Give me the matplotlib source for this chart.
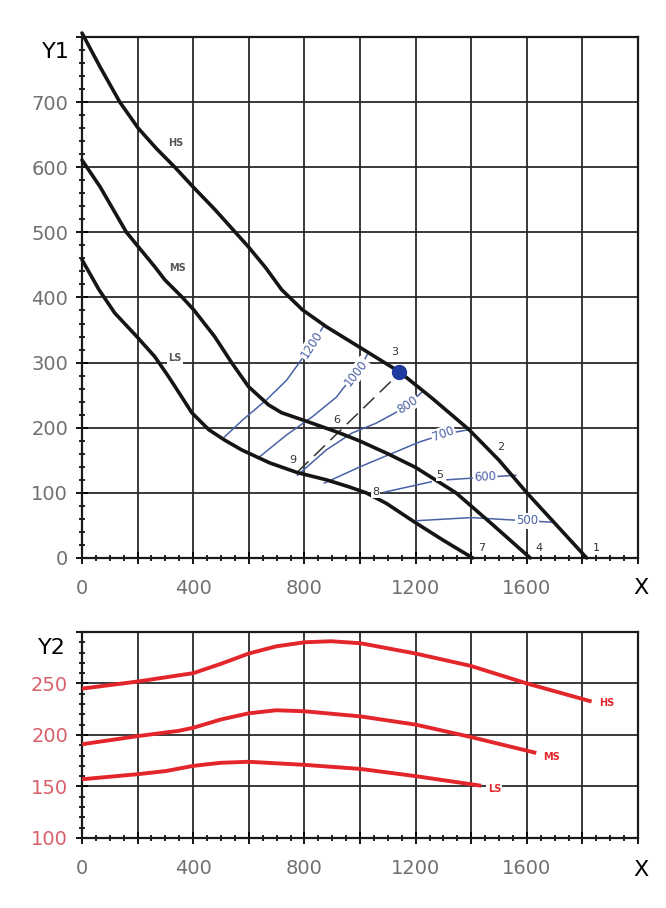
import matplotlib
matplotlib.use("Agg")
import matplotlib.pyplot as plt
from matplotlib.ticker import MultipleLocator

# ---- upper chart (Y1) ----
hs_x = [0, 65, 136, 202, 269, 334, 399, 478, 598, 660, 718, 793, 879, 997, 1141, 1260, 1392, 1500, 1600, 1815]
hs_y = [806, 754, 700, 660, 628, 600, 570, 535, 478, 446, 412, 381, 355, 324, 286, 245, 197, 150, 100, 0]
ms_x = [0, 65, 160, 262, 298, 359, 402, 477, 538, 599, 671, 718, 807, 926, 997, 1100, 1200, 1345, 1480, 1612]
ms_y = [611, 570, 500, 447, 427, 401, 381, 340, 300, 263, 235, 223, 210, 192, 180, 160, 139, 100, 50, 0]
ls_x = [0, 61, 118, 197, 262, 312, 359, 395, 456, 513, 574, 675, 775, 879, 962, 1022, 1094, 1200, 1300, 1405]
ls_y = [458, 412, 376, 340, 309, 278, 247, 223, 197, 181, 166, 146, 131, 120, 109, 100, 84, 54, 27, 0]

iso_levels = ['1200', '1000', '800', '700', '600', '500']
iso_x = [[513, 578, 664, 736, 775, 826, 872],
         [632, 736, 829, 915, 944, 987, 1026],
         [775, 879, 972, 1058, 1123, 1170, 1224],
         [872, 1000, 1213, 1300, 1392],
         [1313, 1450, 1560],
         [1195, 1400, 1600, 1690]]
iso_y = [[186, 212, 243, 273, 296, 327, 358],
         [153, 189, 217, 247, 263, 284, 312],
         [127, 166, 192, 207, 222, 235, 255],
         [115, 140, 178, 190, 197],
         [120, 124, 127],
         [57, 62, 57, 55]]
iso_lab_x = [826, 987, 1170, 1300, 1450, 1600]
iso_lab_y = [327, 284, 235, 190, 124, 57]
iso_rot = [57, 52, 33, 20, 3, 0]

link8_x = [1087, 1256]
link8_y = [101, 117]
dash_x = [775, 1123]
dash_y = [132, 276]
dot_x, dot_y = 1141, 286

pt_names = ['1', '2', '3', '4', '5', '6', '7', '8', '9']
pt_x = [1848, 1507, 1123, 1643, 1288, 918, 1439, 1055, 760]
pt_y = [15, 171, 316, 15, 127, 212, 15, 101, 151]

curve_names = ['HS', 'MS', 'LS']
curve_lab_x = [337, 344, 334]
curve_lab_y = [637, 445, 307]

# ---- lower chart (Y2) ----
hs2_x = [0, 203, 400, 499, 599, 698, 801, 896, 1003, 1201, 1399, 1600, 1826]
hs2_y = [245, 252, 260, 269, 279, 286, 290, 291, 289, 279, 267, 250, 233]
ms2_x = [0, 203, 347, 400, 499, 599, 698, 801, 1003, 1201, 1399, 1627]
ms2_y = [191, 199, 204, 207, 215, 221, 224, 223, 218, 210, 198, 183]
ls2_x = [0, 203, 302, 400, 499, 599, 801, 1003, 1201, 1429]
ls2_y = [157, 162, 165, 170, 173, 174, 171, 167, 160, 151]
lab2_x = [1886, 1688, 1483]
lab2_y = [231, 179, 148]

grey = '#707070'
blue = '#4a62a6'
red = '#e3262b'
red_txt = '#d8606a'

fig = plt.figure(figsize=(6.66, 9.08), dpi=100)
ax1 = fig.add_axes([0.1231, 0.3855, 0.835, 0.5738])
ax2 = fig.add_axes([0.1231, 0.0771, 0.835, 0.2269])


def style_axis(ax, ymin, ymax, ymajor, yminor, ylabels, ycolor):
    ax.set_xlim(0, 2000)
    ax.set_ylim(ymin, ymax)
    ax.set_xticks(range(0, 2001, 200))
    ax.set_xticklabels([str(v) if v % 400 == 0 and v < 2000 else '' for v in range(0, 2001, 200)])
    yt = list(range(ymin, ymax + 1, ymajor))
    ax.set_yticks(yt)
    ax.set_yticklabels([str(v) if v in ylabels else '' for v in yt])
    ax.xaxis.set_minor_locator(MultipleLocator(50))
    ax.yaxis.set_minor_locator(MultipleLocator(yminor))
    ax.grid(True, which='major', color='#2a2a2a', lw=1.3)
    ax.set_axisbelow(True)
    for s in ax.spines.values():
        s.set_linewidth(1.6)
        s.set_color('#1a1a1a')
    ax.tick_params(which='major', direction='inout', length=8, width=1.3, labelsize=14)
    ax.tick_params(which='minor', direction='inout', length=5, width=1.2)
    ax.tick_params(axis='x', pad=11, labelcolor=grey)
    ax.tick_params(axis='y', pad=6, labelcolor=ycolor)


style_axis(ax1, 0, 800, 100, 20, list(range(0, 701, 100)), grey)
style_axis(ax2, 100, 300, 50, 10, [100, 150, 200, 250], red_txt)

# black supply curves
for xs, ys in [(hs_x, hs_y), (ms_x, ms_y), (ls_x, ls_y)]:
    ax1.plot(xs, ys, color='#151515', lw=2.6, solid_joinstyle='round',
             solid_capstyle='round', clip_on=False, zorder=4)

# blue iso lines with inline labels
for xs, ys, lab, lx, ly, r in zip(iso_x, iso_y, iso_levels, iso_lab_x, iso_lab_y, iso_rot):
    ax1.plot(xs, ys, color=blue, lw=1.1, zorder=3)
    ax1.text(lx, ly, lab, color=blue, fontsize=8.5, rotation=r, ha='center', va='center',
             rotation_mode='anchor', zorder=5,
             bbox=dict(boxstyle='square,pad=0.1', fc='white', ec='none'))
ax1.plot(link8_x, link8_y, color=blue, lw=1.1, zorder=3)

ax1.plot(dash_x, dash_y, color='#333333', lw=1.1, dashes=(10, 5), zorder=3)
ax1.plot([dot_x], [dot_y], 'o', color='#1f3a9e', ms=10, zorder=6)

for name, x, y in zip(pt_names, pt_x, pt_y):
    ax1.text(x, y, name, fontsize=8, color='#333333', ha='center', va='center', zorder=6,
             bbox=dict(boxstyle='square,pad=0.1', fc='white', ec='none'))

for name, x, y in zip(curve_names, curve_lab_x, curve_lab_y):
    ax1.text(x, y, name, fontsize=7, color='#555555', fontweight='bold', ha='center',
             va='center', zorder=6,
             bbox=dict(boxstyle='square,pad=0.15', fc='white', ec='none'))

# red curves
for xs, ys in [(hs2_x, hs2_y), (ms2_x, ms2_y), (ls2_x, ls2_y)]:
    ax2.plot(xs, ys, color=red, lw=2.8, solid_joinstyle='round', zorder=4)
for name, x, y in zip(curve_names, lab2_x, lab2_y):
    ax2.text(x, y, name, fontsize=7, color=red, fontweight='bold', ha='center', va='center',
             zorder=6, bbox=dict(boxstyle='square,pad=0.15', fc='white', ec='none'))

# axis captions
fig.text(56 / 666, 1 - 52 / 908, 'Y1', fontsize=16, ha='center', va='center')
fig.text(641 / 666, 1 - 588 / 908, 'X', fontsize=16, ha='center', va='center')
fig.text(52 / 666, 1 - 648 / 908, 'Y2', fontsize=16, ha='center', va='center')
fig.text(641 / 666, 1 - 870 / 908, 'X', fontsize=16, ha='center', va='center')

fig.savefig('out.png', dpi=100, facecolor='white')
